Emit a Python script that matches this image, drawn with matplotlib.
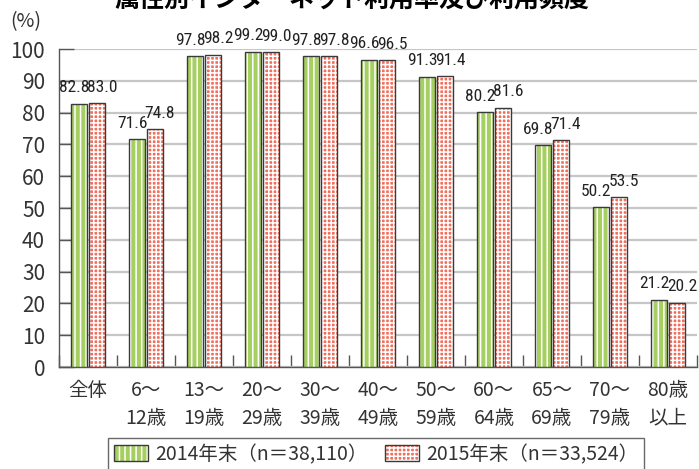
import matplotlib
matplotlib.use("Agg")
import matplotlib.pyplot as plt
import numpy as np

plt.rcParams['font.family'] = ['Noto Sans CJK JP', 'DejaVu Sans']
plt.rcParams['hatch.linewidth'] = 1.1

categories = ['全体', '6～\n12歳', '13～\n19歳', '20～\n29歳', '30～\n39歳',
              '40～\n49歳', '50～\n59歳', '60～\n64歳', '65～\n69歳',
              '70～\n79歳', '80歳\n以上']
v2014 = [82.8, 71.6, 97.8, 99.2, 97.8, 96.6, 91.3, 80.2, 69.8, 50.2, 21.2]
v2015 = [83.0, 74.8, 98.2, 99.0, 97.8, 96.5, 91.4, 81.6, 71.4, 53.5, 20.2]
series_labels = ['2014年末（n＝38,110）', '2015年末（n＝33,524）']
yticks = [0, 10, 20, 30, 40, 50, 60, 70, 80, 90, 100]

green = '#a6cf62'
red = '#f26e5b'
edge = '#3a3a3a'

fig = plt.figure(figsize=(6.99, 4.69), dpi=100)
ax = fig.add_axes([59 / 699, 1 - 367 / 469, 638 / 699, 318 / 469])

x = np.arange(len(categories))
w = 0.285
off = 0.155

def hatched_bars(xs, vals, face, hatch):
    fill = ax.bar(xs, vals, w, facecolor=face, edgecolor='white',
                  hatch=hatch, linewidth=0, zorder=3)
    outline = ax.bar(xs, vals, w, fill=False, edgecolor=edge,
                     linewidth=1.0, zorder=4)
    return fill, outline

g_fill, g_out = hatched_bars(x - off, v2014, green, '|||')
r_fill, r_out = hatched_bars(x + off, v2015, red, '++++')

label_font = dict(family=['Roboto Condensed', 'Noto Sans Condensed',
                          'DejaVu Sans'],
                  fontstretch='condensed', fontsize=12.5, color='#222222')
for xi, v in zip(x - off, v2014):
    ax.annotate(f'{v:.1f}', (xi, v), xytext=(-3.6, 6), textcoords='offset points',
                ha='center', va='bottom', **label_font)
for xi, v in zip(x + off, v2015):
    ax.annotate(f'{v:.1f}', (xi, v), xytext=(3.6, 6), textcoords='offset points',
                ha='center', va='bottom', **label_font)

ax.set_xlim(-0.5, len(categories) - 0.5)
ax.set_ylim(0, 100)
ax.set_yticks(yticks)
ax.set_yticklabels([str(t) for t in yticks], fontsize=15, color='#333333')
ax.set_xticks(x)
ax.set_xticklabels(categories, fontsize=14, color='#333333', linespacing=1.45)
ax.set_xticks(np.arange(-0.5, len(categories)), minor=True)

ax.tick_params(axis='x', which='major', length=0, pad=9)
ax.tick_params(axis='x', which='minor', direction='in', length=9,
               width=1.0, color='#555555')
ax.tick_params(axis='y', direction='in', length=11, width=1.0,
               color='#555555', pad=10)

ax.grid(axis='y', color='#c6c6c6', linewidth=1.6, zorder=0)
ax.set_axisbelow(True)
for s in ['top', 'right']:
    ax.spines[s].set_visible(False)
for s in ['left', 'bottom']:
    ax.spines[s].set_color('#555555')
    ax.spines[s].set_linewidth(1.0)

fig.text(26 / 699, 1 - 22 / 469, '(%)', ha='center', va='center',
         fontsize=14, color='#333333')

fig.text(352 / 699, 1 - 7 / 469, '属性別インターネット利用率及び利用頻度',
         ha='center', va='baseline', fontsize=18, fontweight='bold',
         color='black')

handles = [(g_fill[0], g_out[0]), (r_fill[0], r_out[0])]
leg = fig.legend(handles, series_labels, loc='upper center',
                 bbox_to_anchor=(376 / 699, 1 - 438 / 469), ncol=2,
                 fontsize=14, frameon=True, fancybox=False,
                 handlelength=1.75, handleheight=0.9, handletextpad=0.35,
                 columnspacing=0.9, borderpad=0.3, borderaxespad=0)
leg.get_frame().set_edgecolor('#444444')
leg.get_frame().set_linewidth(1.0)
for t in leg.get_texts():
    t.set_color('#333333')

fig.savefig('out.png', dpi=100)
